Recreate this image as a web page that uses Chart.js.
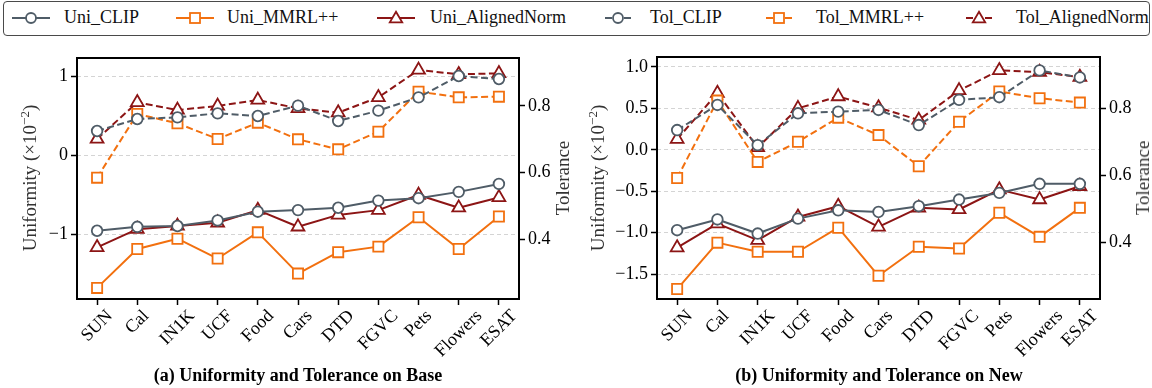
<!DOCTYPE html>
<html lang="en">
<head>
<meta charset="utf-8">
<title>Uniformity and Tolerance</title>
<script src="https://cdn.jsdelivr.net/npm/chart.js@4.4.1/dist/chart.umd.min.js"></script>
<style>
  html, body { margin: 0; padding: 0; background: #fff; }
  body {
    position: relative;
    width: 1152px;
    height: 388px;
    overflow: hidden;
    font-family: 'Liberation Serif', 'Times New Roman', serif;
  }
  canvas { position: absolute; top: 40px; }
  #chartBase { left: 0; }
  #chartNew { left: 576px; }
  #legend {
    position: absolute; left: 3px; top: 1px; width: 1147px; height: 35px;
    box-sizing: border-box; border: 1px solid #4a4a4a; border-radius: 4px;
  }
  .leg-svg { position: absolute; top: 8px; }
  .leg-text { position: absolute; top: 7px; font-size: 18px; line-height: 20px; white-space: nowrap; color: #111; }
  .ytitle {
    position: absolute; font-size: 19px; line-height: 22px; color: #333; white-space: nowrap;
    transform: translate(-50%, -50%) rotate(-90deg);
  }
  .ytitle sup { font-size: 13px; vertical-align: 7px; line-height: 0; }
  .subtitle {
    position: absolute; top: 364px; font-size: 18px; line-height: 22px; font-weight: bold;
    transform: translateX(-50%); white-space: nowrap;
  }
</style>
</head>
<body>
<div id="legend"></div>
<canvas id="chartBase" width="576" height="348"></canvas>
<canvas id="chartNew" width="576" height="348"></canvas>
<div class="ytitle" style="left:30px; top:178px;">Uniformity (×10<sup>−2</sup>)</div>
<div class="ytitle" style="left:563px; top:178px;">Tolerance</div>
<div class="ytitle" style="left:598px; top:178px;">Uniformity (×10<sup>−2</sup>)</div>
<div class="ytitle" style="left:1143px; top:178px;">Tolerance</div>
<div class="subtitle" style="left:298px;">(a) Uniformity and Tolerance on Base</div>
<div class="subtitle" style="left:879px;">(b) Uniformity and Tolerance on New</div>
<script>
// datasets / categories
const categories = ['SUN', 'Cal', 'IN1K', 'UCF', 'Food', 'Cars', 'DTD', 'FGVC', 'Pets', 'Flowers', 'ESAT'];

// (a) Base
const baseUniClip    = [-0.95, -0.90, -0.89, -0.82, -0.71, -0.69, -0.66, -0.57, -0.54, -0.46, -0.36];
const baseUniMmrl    = [-1.67, -1.18, -1.05, -1.30, -0.97, -1.49, -1.22, -1.15, -0.78, -1.18, -0.77];
const baseUniAligned = [-1.16, -0.93, -0.89, -0.85, -0.69, -0.90, -0.75, -0.69, -0.50, -0.66, -0.53];
const baseTolClip    = [0.725, 0.761, 0.766, 0.778, 0.770, 0.801, 0.755, 0.786, 0.826, 0.890, 0.881];
const baseTolMmrl    = [0.585, 0.776, 0.748, 0.701, 0.750, 0.700, 0.670, 0.723, 0.843, 0.826, 0.828];
const baseTolAligned = [0.701, 0.811, 0.788, 0.800, 0.818, 0.793, 0.780, 0.826, 0.908, 0.895, 0.898];

// (b) New
const newUniClip    = [-0.97, -0.84, -1.01, -0.83, -0.73, -0.75, -0.68, -0.60, -0.52, -0.41, -0.41];
const newUniMmrl    = [-1.68, -1.12, -1.23, -1.23, -0.94, -1.52, -1.17, -1.19, -0.76, -1.05, -0.70];
const newUniAligned = [-1.18, -0.89, -1.09, -0.81, -0.68, -0.93, -0.70, -0.72, -0.48, -0.60, -0.44];
const newTolClip    = [0.735, 0.810, 0.690, 0.785, 0.790, 0.795, 0.750, 0.825, 0.833, 0.913, 0.892];
const newTolMmrl    = [0.592, 0.823, 0.640, 0.700, 0.772, 0.720, 0.627, 0.760, 0.850, 0.830, 0.817];
const newTolAligned = [0.708, 0.845, 0.683, 0.800, 0.835, 0.802, 0.765, 0.853, 0.913, 0.908, 0.893];

// tick labels
const baseUniTicks = [-1, 0, 1];
const newUniTicks = [-1.5, -1.0, -0.5, 0.0, 0.5, 1.0];
const tolTicks = [0.4, 0.6, 0.8];

// axis limits
const baseUniRange = [-1.81, 1.227];
const baseTolRange = [0.221, 0.944];
const newUniRange = [-1.80, 1.12];
const newTolRange = [0.231, 0.953];

const seriesNames = ['Uni_CLIP', 'Uni_MMRL++', 'Uni_AlignedNorm', 'Tol_CLIP', 'Tol_MMRL++', 'Tol_AlignedNorm'];

const colClip = '#4f5c67';
const colMmrl = '#f2700f';
const colAligned = '#8c1515';
const styles = [
    { color: colClip, shape: 'circle', dashed: false },
    { color: colMmrl, shape: 'rect', dashed: false },
    { color: colAligned, shape: 'triangle', dashed: false },
    { color: colClip, shape: 'circle', dashed: true },
    { color: colMmrl, shape: 'rect', dashed: true },
    { color: colAligned, shape: 'triangle', dashed: true }
];
const radiusFor = { circle: 5.3, rect: 7.2, triangle: 7.4 };

const FONT = "'Liberation Serif', 'Times New Roman', serif";
Chart.defaults.font.family = FONT;
Chart.defaults.color = '#000';

const fmt = (decimals) => (v) => {
    const s = Math.abs(v).toFixed(decimals);
    return v < 0 ? '\u2212' + s : s;
};

// black box around the plot area
const framePlugin = {
    id: 'frame',
    afterDraw(chart) {
        const { ctx, chartArea: a } = chart;
        ctx.save();
        ctx.strokeStyle = '#000';
        ctx.lineWidth = 2;
        ctx.strokeRect(a.left, a.top, a.right - a.left, a.bottom - a.top);
        ctx.restore();
    }
};

// x labels rotated 45deg, with the rotated box centred on the tick
const xLabelPlugin = {
    id: 'xlabels',
    afterDraw(chart) {
        const { ctx } = chart;
        const xs = chart.scales.x;
        ctx.save();
        ctx.font = '18px ' + FONT;
        ctx.fillStyle = '#000';
        ctx.textAlign = 'center';
        ctx.textBaseline = 'middle';
        xs.ticks.forEach((t, i) => {
            const label = xs.getLabelForValue(t.value);
            const w = ctx.measureText(label).width;
            const half = (w + 12) * Math.SQRT1_2 / 2;
            const cx = xs.getPixelForTick(i);
            const cy = xs.top + 10 + half;
            ctx.save();
            ctx.translate(cx, cy);
            ctx.rotate(-Math.PI / 4);
            ctx.fillText(label, 0, 0);
            ctx.restore();
        });
        ctx.restore();
    }
};

function makeDataset(i, data) {
    const st = styles[i];
    const axis = i < 3 ? 'y' : 'y1';
    return {
        label: seriesNames[i],
        data: data,
        yAxisID: axis,
        borderColor: st.color,
        borderWidth: 2,
        borderDash: st.dashed ? [7, 3.5] : [],
        borderJoinStyle: 'round',
        pointStyle: st.shape,
        pointRadius: radiusFor[st.shape],
        pointBorderWidth: 1.8,
        pointBackgroundColor: '#fff',
        pointBorderColor: st.color,
        tension: 0,
        fill: false,
        order: axis === 'y1' ? 1 : 2
    };
}

function makeChart(id, allData, uniRange, tolRange, uniTicks, uniDecimals, box) {
    const tickFont = { size: 18 };
    new Chart(document.getElementById(id), {
        type: 'line',
        data: {
            labels: categories,
            datasets: allData.map((d, i) => makeDataset(i, d))
        },
        plugins: [framePlugin, xLabelPlugin],
        options: {
            responsive: false,
            animation: false,
            events: [],
            layout: { padding: { top: box.top, left: 0, right: 0, bottom: 0 } },
            plugins: { legend: { display: false }, tooltip: { enabled: false } },
            scales: {
                x: {
                    type: 'category',
                    offset: true,
                    grid: { drawOnChartArea: false, tickColor: '#000', tickLength: 6, tickWidth: 1.5 },
                    border: { display: false },
                    ticks: { display: false, autoSkip: false },
                    afterFit: (s) => { s.height = 89; }
                },
                y: {
                    position: 'left',
                    min: uniRange[0],
                    max: uniRange[1],
                    afterBuildTicks: (s) => { s.ticks = uniTicks.map(v => ({ value: v })); },
                    grid: { color: '#d4d4d4', lineWidth: 1, tickColor: '#000', tickLength: 6, tickWidth: 1.5, tickBorderDash: [] },
                    border: { display: false, dash: [4, 3] },
                    ticks: { font: tickFont, color: '#000', padding: 3, callback: fmt(uniDecimals) },
                    afterFit: (s) => { s.width = box.left; }
                },
                y1: {
                    position: 'right',
                    min: tolRange[0],
                    max: tolRange[1],
                    afterBuildTicks: (s) => { s.ticks = tolTicks.map(v => ({ value: v })); },
                    grid: { drawOnChartArea: false, tickColor: '#000', tickLength: 6, tickWidth: 1.5 },
                    border: { display: false },
                    ticks: { font: tickFont, color: '#000', padding: 3, callback: fmt(1) },
                    afterFit: (s) => { s.width = box.right; }
                }
            }
        }
    });
}

makeChart('chartBase',
    [baseUniClip, baseUniMmrl, baseUniAligned, baseTolClip, baseTolMmrl, baseTolAligned],
    baseUniRange, baseTolRange, baseUniTicks, 0, { left: 77, right: 57, top: 18 });

makeChart('chartNew',
    [newUniClip, newUniMmrl, newUniAligned, newTolClip, newTolMmrl, newTolAligned],
    newUniRange, newTolRange, newUniTicks, 1, { left: 81, right: 52, top: 17 });

// Legend (HTML, shared by both panels)
const legendSlots = [
    { cx: 31, tx: 64 }, { cx: 195, tx: 227 }, { cx: 396, tx: 430 },
    { cx: 618, tx: 650 }, { cx: 779, tx: 816 }, { cx: 979, tx: 1016 }
];

function markerSvg(shape, color) {
    const common = `fill="#fff" stroke="${color}" stroke-width="1.8"`;
    if (shape === 'circle') return `<circle cx="20" cy="10" r="5" ${common}/>`;
    if (shape === 'rect') return `<rect x="15" y="5" width="10" height="10" ${common}/>`;
    return `<polygon points="20,3.8 26.2,14.3 13.8,14.3" ${common}/>`;
}

seriesNames.forEach((name, i) => {
    const st = styles[i];
    const slot = legendSlots[i];
    const line = st.dashed
        ? `<line x1="7" y1="10" x2="14" y2="10" stroke="${st.color}" stroke-width="2"/>` +
          `<line x1="26" y1="10" x2="33" y2="10" stroke="${st.color}" stroke-width="2"/>`
        : `<line x1="1" y1="10" x2="39" y2="10" stroke="${st.color}" stroke-width="2"/>`;
    const svg = document.createElement('div');
    svg.className = 'leg-svg';
    svg.style.left = (slot.cx - 20) + 'px';
    svg.innerHTML = `<svg width="40" height="20" viewBox="0 0 40 20">${line}${markerSvg(st.shape, st.color)}</svg>`;
    document.body.appendChild(svg);

    const txt = document.createElement('span');
    txt.className = 'leg-text';
    txt.style.left = slot.tx + 'px';
    txt.textContent = name;
    document.body.appendChild(txt);
});
</script>
</body>
</html>
